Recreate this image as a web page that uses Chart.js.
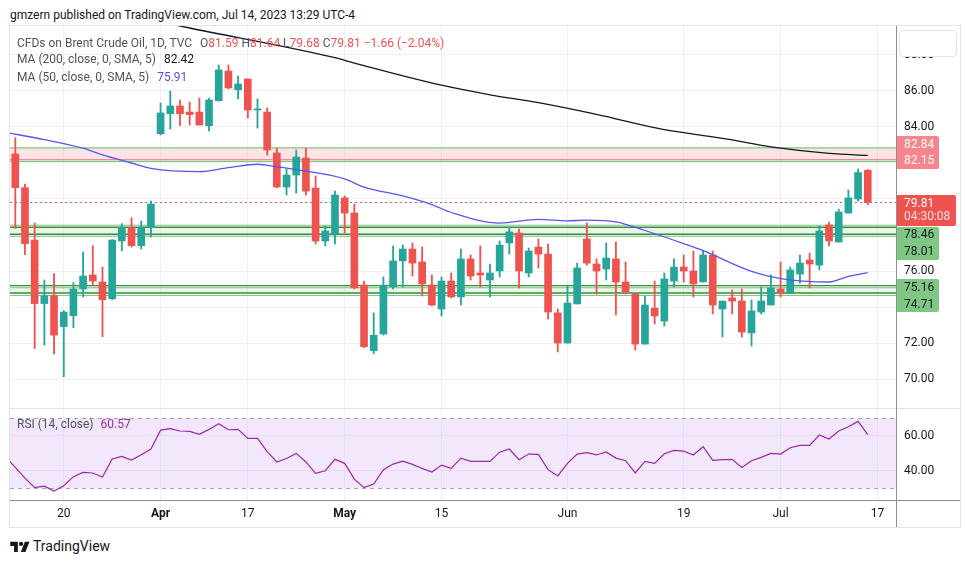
<!DOCTYPE html>
<html><head><meta charset="utf-8">
<script src="https://cdn.jsdelivr.net/npm/chart.js@4.4.1/dist/chart.umd.min.js"></script>
<style>
html,body{margin:0;padding:0;background:#fff;}
body{width:970px;height:563px;position:relative;overflow:hidden;font-family:Roboto,"Liberation Sans",Arial,sans-serif;color:#131722;}
.abs{position:absolute;white-space:nowrap;}
canvas{position:absolute;}
#hdr{left:10px;top:7px;font-size:12px;line-height:16px;color:#131722;}
#frame{left:9px;top:25px;width:950px;height:501px;border:1px solid #e0e3eb;}
.lg{left:17px;font-size:12px;line-height:14px;color:#50535e;}
</style></head><body>
<div id="hdr" class="abs">gmzern published on TradingView.com, Jul 14, 2023 13:29 UTC-4</div>
<div id="frame" class="abs"></div>
<canvas id="cMain" width="950" height="382" style="left:10px;top:26px"></canvas>
<canvas id="cRsi" width="950" height="119" style="left:10px;top:408px"></canvas>
<div class="abs" style="left:10px;top:408px;width:950px;height:1px;background:#e0e3eb"></div>
<div class="abs" style="left:896px;top:26px;width:1px;height:501px;background:#8c8f99"></div>
<div class="abs" style="left:10px;top:500px;width:950px;height:1px;background:#8c8f99"></div>
<div class="abs" style="left:899px;top:30px;width:56px;height:25px;border:1px solid #e0e3eb;border-radius:4px;background:#fff"></div>
<div class="abs lg" id="lg1" style="top:36px"></div>
<div class="abs lg" id="lg2" style="top:52px"></div>
<div class="abs lg" id="lg3" style="top:70px"></div>
<div class="abs lg" id="lg4" style="top:417px"></div>
<svg class="abs" style="left:10px;top:540px" width="20" height="13" viewBox="0 0 36 24"><path d="M14 22H7V11H0V3h14v19zM28 22h-8.5L27 3h8.5L28 22z" fill="#131722"/><circle cx="20" cy="7" r="4" fill="#131722"/></svg>
<div class="abs" style="left:33px;top:538px;font-size:14px;line-height:16px;color:#131722">TradingView</div>
<script>
// ---------- data ----------
const dates = ["Mar 13","Mar 14","Mar 15","Mar 16","Mar 17","Mar 20","Mar 21","Mar 22","Mar 23","Mar 24","Mar 27","Mar 28","Mar 29","Mar 30","Mar 31",
"Apr 3","Apr 4","Apr 5","Apr 6","Apr 10","Apr 11","Apr 12","Apr 13","Apr 14","Apr 17","Apr 18","Apr 19","Apr 20","Apr 21","Apr 24","Apr 25","Apr 26","Apr 27","Apr 28",
"May 1","May 2","May 3","May 4","May 5","May 8","May 9","May 10","May 11","May 12","May 15","May 16","May 17","May 18","May 19","May 22","May 23","May 24","May 25","May 26","May 29","May 30","May 31",
"Jun 1","Jun 2","Jun 5","Jun 6","Jun 7","Jun 8","Jun 9","Jun 12","Jun 13","Jun 14","Jun 15","Jun 16","Jun 19","Jun 20","Jun 21","Jun 22","Jun 23","Jun 26","Jun 27","Jun 28","Jun 29","Jun 30",
"Jul 3","Jul 4","Jul 5","Jul 6","Jul 7","Jul 10","Jul 11","Jul 12","Jul 13","Jul 14"];
const openV = [82.50,80.63,77.72,74.19,74.63,72.91,73.52,75.00,75.78,75.39,74.46,77.67,78.41,77.41,78.41,
83.63,84.74,85.17,84.83,84.83,84.07,85.46,87.11,86.07,86.67,84.95,84.83,82.56,80.67,81.33,82.28,80.61,77.67,78.06,
80.06,79.22,75.22,71.57,72.50,75.11,76.56,77.22,76.50,75.22,73.89,75.44,74.56,76.67,75.89,75.50,76.00,77.56,78.11,75.89,77.33,76.94,73.67,
72.00,74.17,77.78,76.39,76.11,76.67,75.39,74.72,71.94,73.94,73.22,75.44,76.22,76.00,75.39,76.89,73.89,74.50,74.33,72.56,73.72,74.11,
75.00,74.78,75.83,76.61,76.33,78.56,77.61,79.22,80.00,81.59];
const highV = [83.41,80.83,78.67,75.50,75.85,73.80,75.35,77.06,77.41,76.22,77.75,78.63,78.96,78.78,79.89,
85.33,86.00,85.50,85.39,85.61,85.61,87.44,87.44,86.83,86.67,85.56,85.06,82.83,81.67,82.72,82.83,81.28,78.50,80.44,
80.17,79.72,75.44,73.67,75.67,77.39,77.44,77.56,77.33,75.78,75.67,75.89,77.22,76.89,77.39,76.39,77.67,78.44,78.33,77.28,77.78,77.50,73.89,
75.17,76.44,78.67,76.67,77.56,77.61,76.50,74.72,74.61,75.44,75.89,76.67,76.89,77.11,77.11,77.11,74.33,74.94,75.00,74.39,75.11,75.78,
76.50,76.22,76.89,77.00,78.50,78.72,79.44,80.50,81.67,81.64];
const lowV = [78.37,76.91,71.69,71.89,71.39,70.13,72.85,74.56,75.22,72.35,74.40,77.11,77.33,77.22,77.89,
83.56,83.89,84.07,84.11,84.11,83.78,85.44,86.11,85.56,84.50,83.94,82.44,80.62,80.22,80.33,80.22,77.50,77.39,77.50,
78.11,75.00,71.74,71.41,72.44,75.00,75.11,75.72,74.61,74.06,73.50,74.50,74.11,75.50,75.11,74.56,75.67,76.94,75.06,75.67,76.17,73.33,71.50,
72.00,74.17,76.33,74.72,75.50,73.56,74.72,71.61,71.94,73.06,72.94,75.11,75.39,74.56,75.39,73.61,72.33,73.61,72.33,71.83,73.61,74.11,
74.56,74.78,75.33,75.06,76.06,77.39,77.61,79.22,79.89,79.68];
const closeV = [80.63,77.52,74.19,74.63,72.44,73.72,75.00,75.72,75.44,74.41,77.72,78.41,77.41,78.44,79.72,
84.78,85.17,84.74,84.69,84.11,85.50,87.17,86.17,86.39,84.94,84.99,82.72,80.67,81.33,82.33,80.44,77.67,78.22,80.22,
79.22,75.06,71.80,72.43,75.22,76.56,77.22,76.44,75.28,74.11,75.44,74.56,76.67,75.72,75.78,75.89,77.44,78.17,76.00,77.11,76.94,73.72,72.00,
74.22,76.17,76.44,76.00,76.72,75.39,74.83,71.94,74.11,73.50,75.56,76.22,76.00,75.28,76.89,74.11,74.33,74.33,72.61,73.78,74.33,75.06,
74.78,76.06,76.44,76.39,78.22,77.67,79.28,80.06,81.47,79.81];
const ma200Idx = [0,18,33,35,44,49,54,60,67,72,74,78,84,88];
const ma200Val = [91.50,89.50,87.85,87.55,86.32,85.79,85.35,84.70,83.85,83.45,83.28,82.90,82.54,82.42];
const ma50Idx = [-1,3,7,9,12,14,19,22,25,27,29,34,36,40,43,45,50,54,57,59,62,65,69,71,76,79,84,86,88];
const ma50Val = [83.70,83.30,82.82,82.45,82.00,81.70,81.52,81.74,81.93,81.79,81.63,81.12,80.66,80.17,79.69,79.25,78.66,78.87,78.78,78.83,78.73,78.25,77.52,77.13,75.98,75.58,75.39,75.70,75.91];
const rsiLead = 48.0;
const rsiV = [41.9,35.8,30.3,31.2,28.4,31.4,36.6,39.0,38.7,36.4,
46.7,48.2,46.1,49.1,52.4,63.2,64.0,62.7,62.5,60.8,
63.6,66.9,63.4,63.6,58.5,58.5,50.9,45.0,47.0,49.9,
45.0,38.5,40.0,46.5,44.2,35.2,30.3,32.4,40.6,43.8,
45.5,43.6,41.3,39.2,43.2,41.3,47.2,45.3,45.3,45.3,
50.6,52.4,46.3,49.5,49.3,40.6,37.0,44.2,49.5,50.3,
49.0,50.7,47.2,45.7,38.7,45.3,44.2,49.7,51.6,51.2,
49.0,53.7,45.9,46.3,46.5,41.9,45.7,47.6,49.9,49.5,
53.1,54.5,54.5,60.4,58.1,62.7,65.1,68.2,60.57];
const zoneHi = [82.84, 78.46, 75.16];
const zoneLo = [82.15, 78.01, 74.71];
const tickIdx = [5,15,24,34,44,57,69,79,89];
const tickLabels = ["20","Apr","17","May","15","Jun","19","Jul","17"];
const boldTicks = ["Apr","May"];
const yTicks = [70,72,74,76,78,80,82,84,86,88];
const rsiTicks = [40,60];
const countdown = "04:30:08";

// ---------- view ----------
const xMin = -0.547, xMax = 90.915;
const yMin = 68.389, yMax = 89.611;
const rMin = 23.26, rMax = 75.83;
const UP = '#26a69a', DN = '#ef5350', GRID = 'rgba(200,205,225,0.3)';
const FONT = 'Roboto, "Liberation Sans", Arial, sans-serif';
const n = closeV.length;
const last = n - 1;
const candleCol = closeV.map((c,i)=> c >= openV[i] ? UP : DN);

// legend
const chg = closeV[last] - closeV[last-1];
const pct = chg / closeV[last-1] * 100;
const fmt = v => (v < 0 ? '\u2212' : '') + Math.abs(v).toFixed(2);
const rc = closeV[last] >= openV[last] ? UP : DN;
document.getElementById('lg1').innerHTML =
  'CFDs on Brent Crude Oil, 1D, TVC<span style="margin-left:8px">O<span style="color:'+rc+'">'+openV[last].toFixed(2)+'</span> H<span style="color:'+rc+'">'+highV[last].toFixed(2)+'</span> L<span style="color:'+rc+'">'+lowV[last].toFixed(2)+'</span> C<span style="color:'+rc+'">'+closeV[last].toFixed(2)+' '+fmt(chg)+' ('+fmt(pct)+'%)</span></span>';
document.getElementById('lg2').innerHTML = 'MA (200, close, 0, SMA, 5)<span style="margin-left:8px;color:#131722">'+ma200Val[ma200Val.length-1].toFixed(2)+'</span>';
document.getElementById('lg3').innerHTML = 'MA (50, close, 0, SMA, 5)<span style="margin-left:8px;color:#5050f0">'+ma50Val[ma50Val.length-1].toFixed(2)+'</span>';
document.getElementById('lg4').innerHTML = 'RSI (14, close)<span style="margin-left:7px;color:#9c27b0">'+rsiV[last].toFixed(2)+'</span>';

const zoneStyle = [
  {fill:'rgba(242,54,69,0.13)', lines:[['t',0,'#81c784',1.4],['b',-0.6,'#f28b91',1.2],['b',1.0,'#81c784',1.2]]},
  {fill:'rgba(76,175,80,0.13)', lines:[['t',-1.5,'#81c784',1],['t',0.6,'#388e3c',1.6],['b',-0.6,'#388e3c',1.6],['b',1.5,'#81c784',1]]},
  {fill:'rgba(76,175,80,0.13)', lines:[['t',-0.5,'#388e3c',1.4],['t',1.6,'#81c784',1],['b',-1.2,'#388e3c',1.4],['b',1.3,'#81c784',1]]}
];

const zonePlugin = {
  id:'zones',
  beforeDatasetsDraw(ch){
    const {ctx, chartArea:a} = ch; const y = ch.scales.y;
    ctx.save();
    ctx.beginPath(); ctx.rect(a.left,a.top,a.right-a.left,a.bottom-a.top); ctx.clip();
    const hline = (py,color,w)=>{ctx.strokeStyle=color;ctx.lineWidth=w;ctx.beginPath();ctx.moveTo(a.left,py);ctx.lineTo(a.right,py);ctx.stroke();};
    zoneHi.forEach((hi,k)=>{
      const t = y.getPixelForValue(hi), b = y.getPixelForValue(zoneLo[k]);
      ctx.fillStyle = zoneStyle[k].fill; ctx.fillRect(a.left,t,a.right-a.left,b-t);
      zoneStyle[k].lines.forEach(([w0,off,col,lw])=>hline((w0==='t'?t:b)+off,col,lw));
    });
    const pl = Math.round(y.getPixelForValue(closeV[last]))+0.5;
    ctx.setLineDash([2,3]); hline(pl,'#ef5350',1); ctx.setLineDash([]);
    ctx.restore();
  }
};

const mainAxis = {
  id:'mainAxis',
  afterDraw(ch){
    const {ctx, chartArea:a} = ch; const y = ch.scales.y;
    const P = v => y.getPixelForValue(v);
    ctx.save();
    ctx.font = '12px '+FONT; ctx.textBaseline='middle'; ctx.textAlign='left';
    const pinkTop = P(zoneHi[0]) - 12;
    const redTop = P(closeV[last]) - 7.5;
    const g1Top = Math.max(P(zoneHi[1]) - 8, redTop + 32);
    const g2Top = P(zoneHi[2]) - 7;
    const boxes = [
      {top:pinkTop,h:33,w:43,bg:'#f7868c',texts:[[zoneHi[0].toFixed(2),'#fff'],[zoneLo[0].toFixed(2),'#fff']],offs:[9,25]},
      {top:redTop,h:31,w:60,bg:'#ef5350',texts:[[closeV[last].toFixed(2),'#fff'],[countdown,'rgba(255,255,255,0.82)']],offs:[9,22]},
      {top:g1Top,h:33,w:43,bg:'#81c784',texts:[[zoneHi[1].toFixed(2),'#131722'],[zoneLo[1].toFixed(2),'#131722']],offs:[8,25]},
      {top:g2Top,h:33,w:43,bg:'#81c784',texts:[[zoneHi[2].toFixed(2),'#131722'],[zoneLo[2].toFixed(2),'#131722']],offs:[9,26]}
    ];
    ctx.fillStyle='#131722';
    yTicks.forEach(v=>{
      const p = P(v);
      const hidden = boxes.some(b => p > b.top - 7 && p < b.top + b.h + 7);
      if (!hidden) ctx.fillText(v.toFixed(2), a.right+8, p);
    });
    boxes.forEach(b=>{
      ctx.fillStyle=b.bg; ctx.beginPath();
      if (ctx.roundRect) ctx.roundRect(a.right, b.top, b.w, b.h, [0,2,2,0]); else ctx.rect(a.right,b.top,b.w,b.h);
      ctx.fill();
      b.texts.forEach(([t,c],k)=>{ctx.fillStyle=c; ctx.fillText(t, a.right+8, b.top+b.offs[k]);});
    });
    ctx.restore();
  }
};

const xScaleBase = {
  type:'linear', min:xMin, max:xMax, offset:false,
  grid:{color:GRID, drawTicks:false, offset:false},
  border:{display:false},
  afterBuildTicks: s => { s.ticks = tickIdx.map(v=>({value:v})); }
};

new Chart(document.getElementById('cMain'), {
  type:'bar',
  data:{datasets:[
    {type:'line', label:'MA 200', data: ma200Idx.map((x,k)=>({x, y:ma200Val[k]})), borderColor:'#131722', borderWidth:1.3, pointRadius:0, cubicInterpolationMode:'monotone', order:0},
    {type:'line', label:'MA 50', data: ma50Idx.map((x,k)=>({x, y:ma50Val[k]})), borderColor:'#5656f0', borderWidth:1.3, pointRadius:0, cubicInterpolationMode:'monotone', order:0},
    {label:'wick', data: openV.map((o,i)=>({x:i, y:[lowV[i], highV[i]]})), backgroundColor:candleCol, barThickness:1.2, grouped:false, order:2},
    {label:'body', data: openV.map((o,i)=>({x:i, y:[o, closeV[i]]})), backgroundColor:candleCol, barThickness:7, minBarLength:1, grouped:false, order:1}
  ]},
  options:{
    responsive:false, animation:false, events:[],
    layout:{padding:0},
    plugins:{legend:{display:false}, tooltip:{enabled:false}},
    scales:{
      x: Object.assign({}, xScaleBase, {ticks:{display:false}, afterFit: s=>{s.height=0;}}),
      y: {position:'right', min:yMin, max:yMax, beginAtZero:false,
          grid:{color:GRID, drawTicks:false}, border:{display:false}, ticks:{display:false},
          afterBuildTicks: s=>{ s.ticks = yTicks.map(v=>({value:v})); },
          afterFit: s=>{ s.width = 64; }}
    }
  },
  plugins:[zonePlugin, mainAxis]
});

const rsiPlug = {
  id:'rsiPlug',
  beforeDraw(ch){
    const {ctx, chartArea:a} = ch; const y = ch.scales.y;
    const t = y.getPixelForValue(70), b = y.getPixelForValue(30);
    ctx.save(); ctx.fillStyle='#f3e7fb'; ctx.fillRect(a.left,t,a.right-a.left,b-t); ctx.restore();
  },
  beforeDatasetsDraw(ch){
    const {ctx, chartArea:a} = ch; const y = ch.scales.y;
    ctx.save(); ctx.strokeStyle='#a3a6af'; ctx.lineWidth=1; ctx.setLineDash([4,4]);
    [70,30].forEach(v=>{const p=Math.round(y.getPixelForValue(v))+0.5; ctx.beginPath(); ctx.moveTo(a.left,p); ctx.lineTo(a.right,p); ctx.stroke();});
    ctx.restore();
  },
  afterDraw(ch){
    const {ctx, chartArea:a} = ch; const y = ch.scales.y;
    ctx.save(); ctx.font='12px '+FONT; ctx.textBaseline='middle'; ctx.textAlign='left'; ctx.fillStyle='#131722';
    rsiTicks.forEach(v=>ctx.fillText(v.toFixed(2), a.right+8, y.getPixelForValue(v)));
    ctx.restore();
  }
};

new Chart(document.getElementById('cRsi'), {
  type:'line',
  data:{datasets:[
    {label:'RSI', data:[{x:-1,y:rsiLead}].concat(rsiV.map((v,i)=>({x:i,y:v}))), borderColor:'#9c27b0', borderWidth:1.2, pointRadius:0, tension:0}
  ]},
  options:{
    responsive:false, animation:false, events:[],
    layout:{padding:0},
    plugins:{legend:{display:false}, tooltip:{enabled:false}},
    scales:{
      x: Object.assign({}, xScaleBase, {
        ticks:{padding:7, color:'#131722', maxRotation:0, autoSkip:false,
          font: c => ({family:FONT, size:12, weight: (c.tick && boldTicks.includes(c.tick.label)) ? 'bold' : 'normal'}),
          callback: v => { const k = tickIdx.indexOf(v); return k >= 0 ? tickLabels[k] : ''; }},
        afterFit: s=>{ s.height = 27; }}),
      y: {position:'right', min:rMin, max:rMax, grid:{color:'rgba(150,110,200,0.10)', drawTicks:false}, border:{display:false}, ticks:{display:false},
          afterBuildTicks: s=>{ s.ticks = rsiTicks.map(v=>({value:v})); },
          afterFit: s=>{ s.width = 64; }}
    }
  },
  plugins:[rsiPlug]
});
</script>
</body></html>
